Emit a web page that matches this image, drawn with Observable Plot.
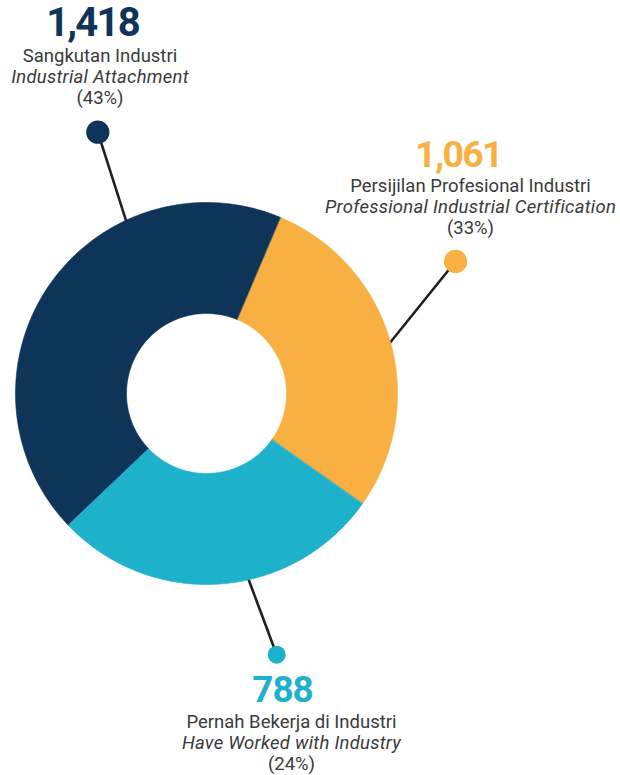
<!DOCTYPE html>
<html><head><meta charset="utf-8">
<script src="https://cdn.jsdelivr.net/npm/d3@7"></script>
<script src="https://cdn.jsdelivr.net/npm/@observablehq/plot@0.6"></script>
<style>
html,body{margin:0;padding:0;background:#fff}
#chart svg{display:block}
.num-a text{letter-spacing:-1.8px}
.num-b text{letter-spacing:-1.7px}
.num-c text{letter-spacing:-1.0px}
.lbl-it text{letter-spacing:0.25px}
</style>
</head><body><div id="chart"></div>
<script>
// ---- data ----
const categoriesMs = ["Sangkutan Industri", "Persijilan Profesional Industri", "Pernah Bekerja di Industri"];
const categoriesEn = ["Industrial Attachment", "Professional Industrial Certification", "Have Worked with Industry"];
const counts = [1418, 1061, 788];
const percentLabels = ["(43%)", "(33%)", "(24%)"];
// share of the ring as drawn in the reference
const ringShares = [43.5, 28.4, 28.1];
const colors = ["#0f3459", "#f9b043", "#1eb1cb"];

// ---- layout (pixels) ----
const W = 620, H = 775;
const cx = 206, cy = 393, R = 191, r0 = 80;
const startDeg = -133.6;
// leader: angle on the ring where the line meets it, dot position and radius
const leaderAngle = [-25.1, 75.3, 167.4];
const dotPos = [[97.3, 131.7], [455, 261], [276.2, 654.2]];
const dotR = [11.6, 11.7, 9];
// label anchors: number (x, cap top, size), text block (x, first baseline)
const numPos = [[92, 7.5, 40], [458, 139.5, 37.5], [282, 675, 37]];
const numClass = ["num-a", "num-b", "num-c"];
const textPos = [[99.5, 61.6], [470, 191.8], [291, 727.5]];
const lineGap = 21;
const textSize = 18.5;

const rad = d => d * Math.PI / 180;
const polar = (a, r) => [cx + r * Math.sin(a), cy - r * Math.cos(a)];

const pie = d3.pie().sort(null).startAngle(rad(startDeg)).endAngle(rad(startDeg + 360))(ringShares);

const slices = pie.map((p, i) => {
  const pts = [];
  const n = 120;
  for (let k = 0; k <= n; k++) { const a = p.startAngle + (p.endAngle - p.startAngle) * k / n; const [x, y] = polar(a, R); pts.push({x, y}); }
  for (let k = n; k >= 0; k--) { const a = p.startAngle + (p.endAngle - p.startAngle) * k / n; const [x, y] = polar(a, r0); pts.push({x, y}); }
  return {pts, color: colors[i]};
});

const leaders = counts.map((c, i) => {
  const [x2, y2] = polar(rad(leaderAngle[i]), R - 4);
  return {x1: dotPos[i][0], y1: dotPos[i][1], x2, y2, color: colors[i], r: dotR[i]};
});

const numbers = counts.map((c, i) => ({x: numPos[i][0], y: numPos[i][1], size: numPos[i][2], text: d3.format(",")(c), color: colors[i], cls: numClass[i]}));
const textLines = [];
counts.forEach((c, i) => {
  [categoriesMs[i], categoriesEn[i], percentLabels[i]].forEach((t, j) => {
    textLines.push({x: textPos[i][0], y: textPos[i][1] + j * lineGap, text: t, italic: j === 1});
  });
});

const FONT = "Roboto, 'Noto Sans', sans-serif";

const plot = Plot.plot({
  width: W, height: H,
  margin: 0,
  x: {domain: [0, W], range: [0, W], axis: null},
  y: {domain: [0, H], range: [0, H], axis: null},
  style: {background: "#fff", fontFamily: FONT},
  marks: [
    Plot.link(leaders, {x1: "x1", y1: "y1", x2: "x2", y2: "y2", stroke: "#231f20", strokeWidth: 2.6}),
    ...slices.map(s => Plot.line(s.pts, {x: "x", y: "y", fill: s.color, stroke: s.color, strokeWidth: 0.6, curve: "linear-closed"})),
    ...leaders.map(l => Plot.dot([l], {x: "x1", y: "y1", r: l.r, fill: l.color, stroke: null})),
    ...numbers.map(n => Plot.text([n], {x: "x", y: "y", text: "text", fill: n.color, fontSize: n.size, fontWeight: 700, textAnchor: "middle", lineAnchor: "top", className: n.cls})),
    Plot.text(textLines.filter(d => !d.italic), {x: "x", y: "y", text: "text", fill: "#3a3a3a", fontSize: textSize, textAnchor: "middle", lineAnchor: "bottom"}),
    Plot.text(textLines.filter(d => d.italic), {x: "x", y: "y", text: "text", fill: "#3a3a3a", fontSize: textSize, fontStyle: "italic", textAnchor: "middle", lineAnchor: "bottom", className: "lbl-it"})
  ]
});
document.getElementById("chart").appendChild(plot);
</script>
</body></html>
